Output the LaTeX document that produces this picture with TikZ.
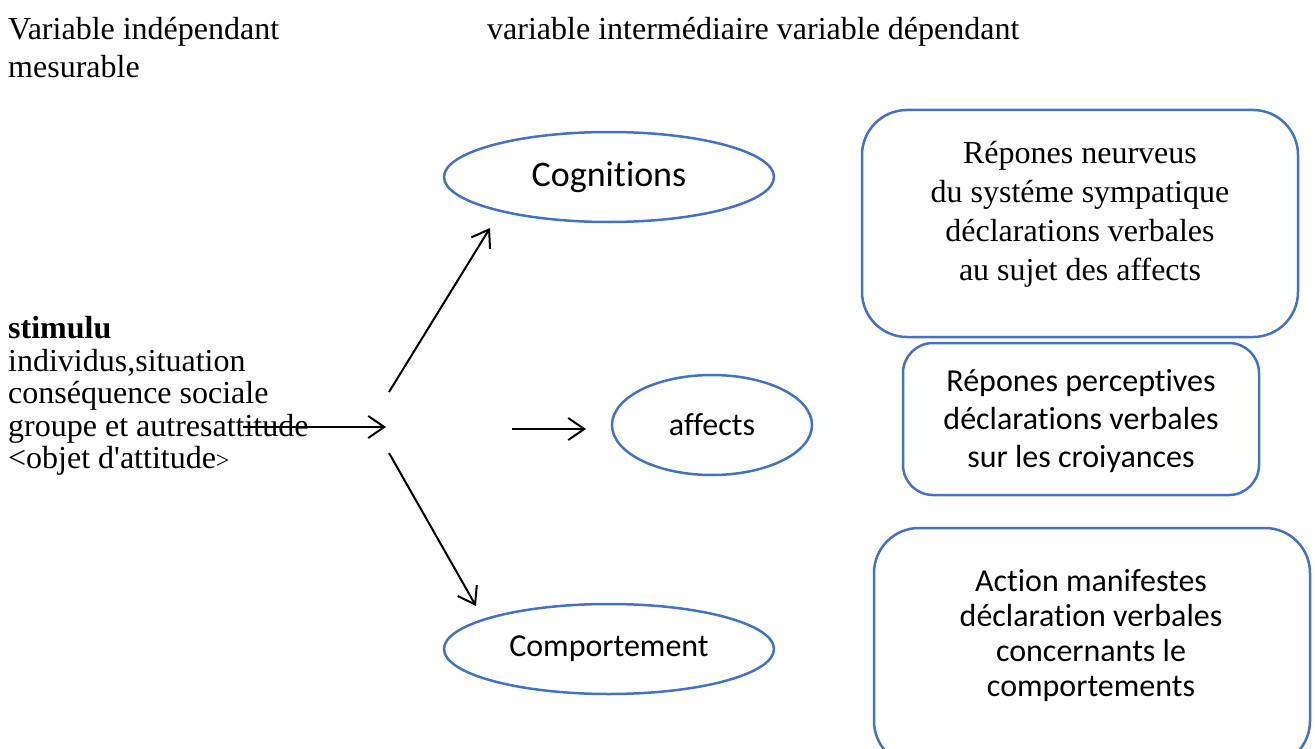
\documentclass[tikz,border=0pt]{standalone}
\usepackage{fontspec}
\setmainfont{Liberation Serif}
\newfontfamily\calibri[Ligatures={NoCommon,NoDiscretionary,NoRare,NoContextual}]{Carlito}
\usetikzlibrary{arrows.meta,shapes.geometric}
\definecolor{bl}{HTML}{4472C4}
\begin{document}
\begin{tikzpicture}[x=1pt,y=-1pt,
  hd/.style={font=\fontsize{32}{38}\selectfont, inner sep=0pt, anchor=base west},
  ell/.style={ellipse, draw=bl, line width=2.5pt, inner sep=0pt},
  rbox/.style={draw=bl, line width=2.5pt, inner sep=0pt},
  arr/.style={-{Straight Barb[length=16pt,width=22pt]}, line width=2pt},
  cal/.style={font=\calibri\fontsize{32}{38}\selectfont}]
\useasboundingbox (0,0) rectangle (1315,749);
\clip (0,0) rectangle (1315,749);

% headers
\node[hd] (h1) at (8,40) {Variable indépendant};
\node[hd] (h2) at (487,40) {variable intermédiaire variable dépendant};
\node[hd] (h3) at (8,78) {mesurable};

% stimulus block
\node[anchor=north west, align=left, inner sep=0pt, font=\fontsize{32}{32.6}\selectfont] (stim) at (8,316)
  {\textbf{stimulu}\\individus,situation\\conséquence sociale\\groupe et autresattitude\\\textless objet d\textquotesingle attitude{\fontsize{24}{24}\selectfont\textgreater}};

% ellipses
\node[ell, minimum width=330pt, minimum height=90pt, font=\calibri\fontsize{36}{40}\selectfont] (cog) at (609,177) {Cognitions};
\node[ell, minimum width=200pt, minimum height=100pt, cal] (aff) at (712,425) {affects};
\node[ell, minimum width=330pt, minimum height=90pt, cal] (comp) at (609,649) {Comportement};

% boxes
\node[rbox, rounded corners=45pt, minimum width=436pt, minimum height=227pt] (b1) at (1080,223.5) {};
\node[rbox, rounded corners=30pt, minimum width=356pt, minimum height=152pt] (b2) at (1081,419) {};
\node[rbox, rounded corners=45pt, minimum width=436pt, minimum height=238pt] (b3) at (1092,647) {};

\node[align=center, inner sep=0pt, font=\fontsize{32}{39}\selectfont] (t1) at (b1.center) [yshift=9pt] {Répones neurveus\\du systéme sympatique\\déclarations verbales\\au sujet des affects};
\node[align=center, inner sep=0pt, cal] (t2) at (1081,421) {Répones perceptives\\déclarations verbales\\sur les croiyances};
\node[align=center, inner sep=0pt, font=\calibri\fontsize{32}{35}\selectfont] (t3) at (1091,636) {Action manifestes\\déclaration verbales\\concernants le\\comportements};

% connectors
\coordinate (a0) at (243,427);
\coordinate (hub) at (386,427);
\coordinate (u0) at (389,392);
\coordinate (u1) at (490,228);
\coordinate (d0) at (389,453);
\coordinate (d1) at (476,606);
\coordinate (m0) at (512,429);
\coordinate (m1) at (586,429);
\draw[arr] (a0) -- (hub);
\draw[arr] (u0) -- (u1);
\draw[arr] (d0) -- (d1);
\draw[arr] (m0) -- (m1);
\end{tikzpicture}
\end{document}
